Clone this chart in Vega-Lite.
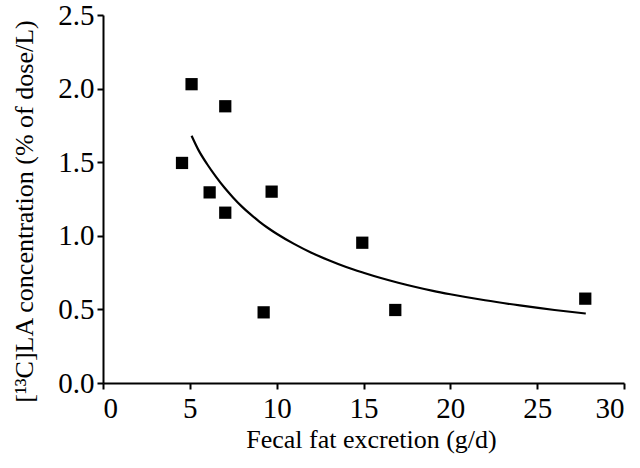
{
  "$schema": "https://vega.github.io/schema/vega-lite/v6.json",
  "autosize": {"type": "none"},
  "width": 521,
  "height": 368,
  "padding": {"left": 103, "top": 15, "right": 16, "bottom": 85},
  "background": "white",
  "config": {
    "view": {"stroke": null},
    "axis": {
      "grid": false,
      "domainColor": "black",
      "domainWidth": 2,
      "tickColor": "black",
      "tickWidth": 2,
      "tickSize": 6,
      "labelFont": "Liberation Serif",
      "labelFontSize": 29,
      "labelColor": "black",
      "titleFont": "Liberation Serif",
      "titleFontSize": 26,
      "titleFontWeight": "normal",
      "titleColor": "black"
    }
  },
  "datasets": {
    "points": [
      {"fat": 4.55, "conc": 1.495},
      {"fat": 5.1, "conc": 2.03},
      {"fat": 6.14, "conc": 1.295},
      {"fat": 7.04, "conc": 1.88},
      {"fat": 7.04, "conc": 1.157},
      {"fat": 9.25, "conc": 0.48},
      {"fat": 9.71, "conc": 1.3},
      {"fat": 14.93, "conc": 0.953},
      {"fat": 16.83, "conc": 0.496},
      {"fat": 27.77, "conc": 0.573}
    ],
    "fit": [
      {"fat": 5.1, "conc": 1.68},
      {"fat": 5.5, "conc": 1.582},
      {"fat": 6, "conc": 1.486},
      {"fat": 6.5, "conc": 1.402},
      {"fat": 7, "conc": 1.326},
      {"fat": 7.5, "conc": 1.259},
      {"fat": 8, "conc": 1.198},
      {"fat": 8.5, "conc": 1.145},
      {"fat": 9, "conc": 1.097},
      {"fat": 9.5, "conc": 1.053},
      {"fat": 10, "conc": 1.014},
      {"fat": 11, "conc": 0.945},
      {"fat": 12, "conc": 0.885},
      {"fat": 13, "conc": 0.834},
      {"fat": 14, "conc": 0.788},
      {"fat": 15, "conc": 0.749},
      {"fat": 16, "conc": 0.713},
      {"fat": 17, "conc": 0.681},
      {"fat": 18, "conc": 0.652},
      {"fat": 19, "conc": 0.626},
      {"fat": 20, "conc": 0.603},
      {"fat": 22, "conc": 0.562},
      {"fat": 24, "conc": 0.527},
      {"fat": 26, "conc": 0.496},
      {"fat": 27.8, "conc": 0.472}
    ]
  },
  "encoding": {
    "x": {
      "field": "fat",
      "type": "quantitative",
      "scale": {"domain": [0, 30], "nice": false, "zero": false},
      "axis": {
        "values": [0, 5, 10, 15, 20, 25, 30],
        "labelPadding": 5,
        "title": "Fecal fat excretion (g/d)",
        "titleX": 268,
        "titleY": 64,
        "titleBaseline": "alphabetic",
        "titleAlign": "center"
      }
    },
    "y": {
      "field": "conc",
      "type": "quantitative",
      "scale": {"domain": [0, 2.5], "nice": false},
      "axis": {
        "values": [0, 0.5, 1, 1.5, 2, 2.5],
        "format": ".1f",
        "labelPadding": 3,
        "title": "[¹³C]LA concentration (% of dose/L)",
        "titleAngle": -90,
        "titleX": -71,
        "titleY": 196,
        "titleBaseline": "alphabetic",
        "titleAlign": "center"
      }
    }
  },
  "layer": [
    {
      "data": {"name": "fit"},
      "mark": {"type": "line", "color": "black", "strokeWidth": 2.2, "interpolate": "monotone"}
    },
    {
      "data": {"name": "points"},
      "mark": {"type": "square", "size": 150, "color": "black", "filled": true, "opacity": 1}
    }
  ]
}
